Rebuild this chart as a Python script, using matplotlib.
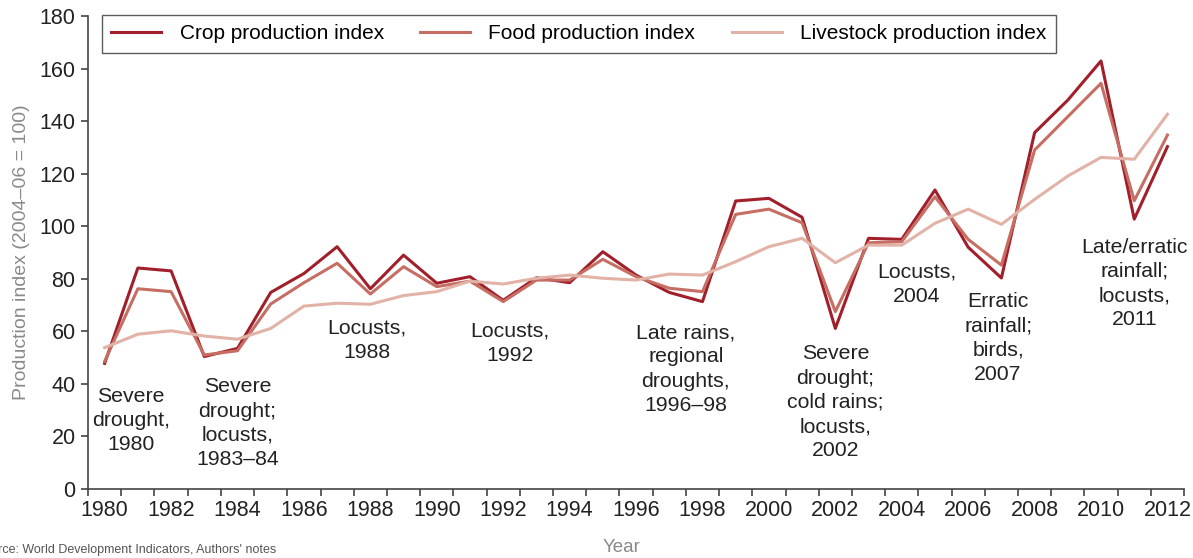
import matplotlib
matplotlib.use("Agg")
import matplotlib.pyplot as plt
import numpy as np

plt.rcParams['font.family'] = ['Liberation Sans', 'DejaVu Sans']

# data
years = list(range(1980, 2013))
crop = [47.8, 84.1, 83.0, 50.4, 53.5, 74.8, 82.0, 92.2, 76.2, 89.0, 78.3, 80.8, 71.8, 80.4,
        78.5, 90.3, 81.4, 74.8, 71.3, 109.6, 110.6, 103.4, 61.1, 95.4, 95.0, 113.8, 92.0,
        80.3, 135.6, 148.0, 162.9, 102.7, 130.3]
food = [48.6, 76.2, 75.1, 51.0, 52.6, 70.4, 78.5, 85.9, 74.2, 84.6, 77.0, 79.1, 71.3, 79.5,
        79.5, 87.4, 80.8, 76.4, 75.1, 104.5, 106.5, 101.3, 67.5, 93.7, 94.1, 111.2, 95.0,
        85.2, 129.0, 141.7, 154.4, 109.7, 134.7]
livestock = [53.8, 58.9, 60.2, 58.2, 57.0, 61.1, 69.6, 70.7, 70.3, 73.6, 75.1, 79.1, 78.0,
             80.2, 81.4, 80.2, 79.5, 81.8, 81.4, 86.5, 92.2, 95.4, 86.1, 92.8, 92.8, 101.1,
             106.5, 100.7, 110.2, 119.1, 126.2, 125.5, 142.6]

series_names = ['Crop production index', 'Food production index', 'Livestock production index']
colors = ['#a11f2a', '#c66e64', '#e2b2a6']

notes = ['Severe\ndrought,\n1980', 'Severe\ndrought;\nlocusts,\n1983–84', 'Locusts,\n1988',
         'Locusts,\n1992', 'Late rains,\nregional\ndroughts,\n1996–98',
         'Severe\ndrought;\ncold rains;\nlocusts,\n2002', 'Locusts,\n2004',
         'Erratic\nrainfall;\nbirds,\n2007', 'Late/erratic\nrainfall;\nlocusts,\n2011']
note_x = [1980.8, 1984.0, 1987.9, 1992.2, 1997.5, 2002.0, 2004.45, 2006.9, 2011.0]
note_y = [26, 25, 56.7, 55.5, 45.7, 33, 78, 57.6, 78.2]

fig = plt.figure(figsize=(11.93, 5.58), dpi=100)
ax = fig.add_axes([0.0738, 0.1237, 0.9187, 0.8476])

for vals, name, c in zip([crop, food, livestock], series_names, colors):
    ax.plot(years, vals, color=c, lw=2.2, label=name)

for txt, x, y in zip(notes, note_x, note_y):
    ax.text(x, y, txt, ha='center', va='center', fontsize=15.3, color='#222222',
            linespacing=1.35)

ax.set_xlim(1979.5, 2012.5)
ax.set_ylim(0, 180)
ax.set_yticks(np.arange(0, 181, 20))
ax.set_xticks(years[::2])
ax.set_xticks(np.arange(1979.5, 2013, 1), minor=True)
ax.tick_params(axis='x', which='major', length=0, labelsize=15.5, pad=8, labelcolor='#222222')
ax.tick_params(axis='x', which='minor', length=5, width=1.2, color='#444444')
ax.tick_params(axis='y', length=5, width=1.2, labelsize=15.5, color='#444444',
               labelcolor='#222222', pad=4)
for s in ['top', 'right']:
    ax.spines[s].set_visible(False)
for s in ['left', 'bottom']:
    ax.spines[s].set_color('#444444')
    ax.spines[s].set_linewidth(1.2)

ax.set_ylabel('Production index (2004–06 = 100)', fontsize=14, color='#8a8a8a')
ax.yaxis.set_label_coords(-0.053, 0.5)
ax.set_xlabel('Year', fontsize=13.5, color='#8a8a8a')
ax.xaxis.set_label_coords(0.487, -0.106)

leg = ax.legend(loc='upper left', bbox_to_anchor=(0.0128, 1.002), ncol=3, fontsize=15,
                frameon=True, fancybox=False, handlelength=2.4, columnspacing=1.75,
                borderpad=0.45, handletextpad=0.87, borderaxespad=0)
leg.get_frame().set_edgecolor('#333333')
leg.get_frame().set_linewidth(1.0)

fig.text(-0.02, 0.003, "Source: World Development Indicators, Authors' notes", fontsize=9,
         color='#555555', ha='left', va='bottom')

fig.savefig('out.png', dpi=100)
